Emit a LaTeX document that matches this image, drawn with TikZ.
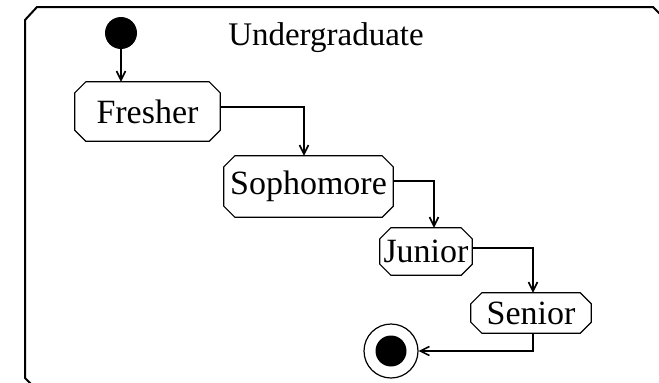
\documentclass[tikz,border=0pt]{standalone}
\usepackage{fontspec}
\setmainfont{Liberation Serif}
\usetikzlibrary{arrows.meta,calc}

\tikzset{
  statebox/.style={rectangle, inner sep=0pt, font=\fontsize{34}{40}\selectfont},
  boxline/.style={draw, line width=1.2pt},
  flow/.style={draw, line width=1.3pt,
    -{Straight Barb[length=9pt,width=9pt,line width=1.6pt]}},
  frame/.style={draw, line width=2pt},
}

% octagonal outline with 11pt corner cuts around a named node
\newcommand\cutcorners[1]{%
  \draw[boxline]
    ($(#1.north west)+(11,0)$) -- ($(#1.north east)+(-11,0)$)
    -- ($(#1.north east)+(0,11)$) -- ($(#1.south east)+(0,-11)$)
    -- ($(#1.south east)+(-11,0)$) -- ($(#1.south west)+(11,0)$)
    -- ($(#1.south west)+(0,-11)$) -- ($(#1.north west)+(0,11)$)
    -- cycle;}

\begin{document}
\begin{tikzpicture}[x=1pt,y=-1pt]
  \useasboundingbox (0,0) rectangle (659,383);
  \begin{scope}
    \clip (0,0) rectangle (659,383);
    % composite state outline (runs past the right and bottom edges)
    \draw[frame] (37,7) -- (653,7) -- (667,21) -- (667,378)
      -- (653,392) -- (39,392) -- (25,378) -- (25,20) -- cycle;
  \end{scope}

  \node[font=\fontsize{33}{40}\selectfont] (title) at (326,38) {Undergraduate};

  % initial and final pseudo-states
  \node[circle, fill=black, minimum size=32pt, inner sep=0pt] (start) at (121,33) {};
  \node[circle, draw, line width=1.2pt, minimum size=54pt, inner sep=0pt] (final) at (391,351) {};
  \node[circle, fill=black, minimum size=31pt, inner sep=0pt] (finaldot) at (final.center) {};

  % activity states
  \node[statebox, minimum width=145pt, minimum height=59pt] (fresher) at (147.5,111.5) {Fresher};
  \node[statebox, minimum width=169pt, minimum height=61pt] (sophomore) at (308.5,186.5) {Sophomore};
  \node[statebox, minimum width=92pt, minimum height=47pt] (junior) at (426,251.5) {Junior};
  \node[statebox, minimum width=120pt, minimum height=40pt] (senior) at (531,313) {Senior};
  \cutcorners{fresher}
  \cutcorners{sophomore}
  \cutcorners{junior}
  \cutcorners{senior}

  % transitions
  \draw[flow] (start.south) -- (start.south |- fresher.north);
  \draw[flow] ($(fresher.east)+(0,-4.5)$) -| ($(sophomore.north)+(-4.5,0)$);
  \draw[flow] ($(sophomore.east)+(0,-5.5)$) -| ($(junior.north)+(8,0)$);
  \draw[flow] ($(junior.east)+(0,-3.5)$) -| ($(senior.north)+(2,0)$);
  \draw[flow] ($(senior.south)+(2,0)$) |- (final.east);
\end{tikzpicture}
\end{document}
